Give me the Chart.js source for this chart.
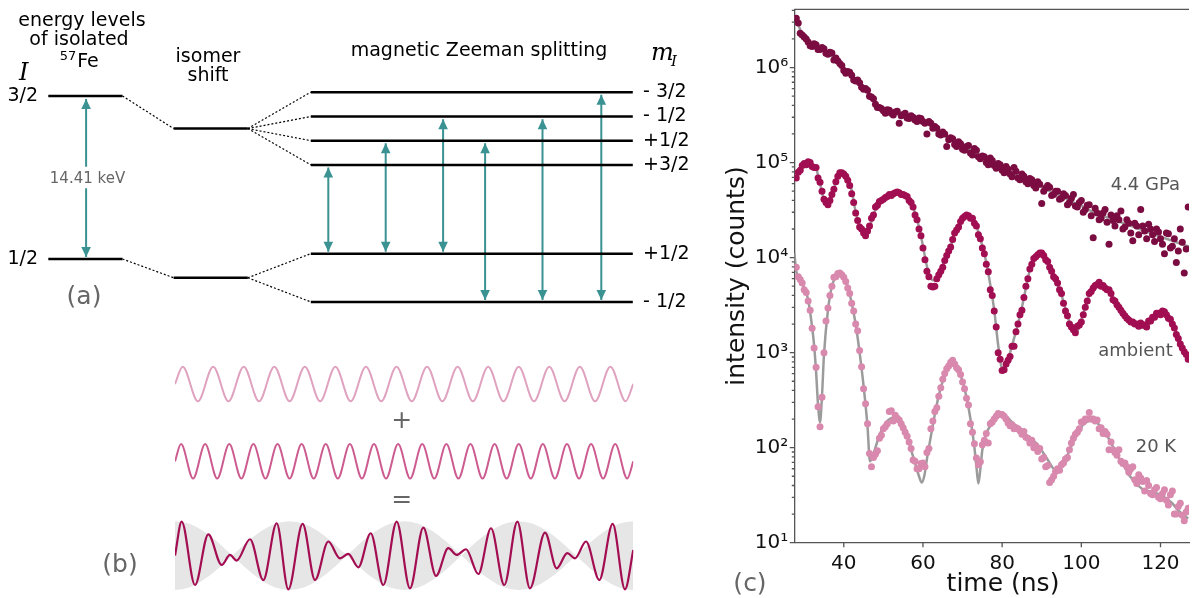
<!DOCTYPE html>
<html>
<head>
<meta charset="utf-8">
<script src="https://cdn.jsdelivr.net/npm/chart.js@4.4.1/dist/chart.umd.min.js"></script>
<style>
  html, body { margin: 0; padding: 0; background: #fff; }
  body { width: 1193px; height: 598px; position: relative; overflow: hidden; }
  canvas { position: absolute; }
  #levels { left: 0; top: 0; }
  #beats { left: 100px; top: 345px; }
  #decay { left: 700px; top: 0; }
</style>
</head>
<body>
<canvas id="levels" width="700" height="345"></canvas>
<canvas id="beats" width="560" height="253"></canvas>
<canvas id="decay" width="493" height="598"></canvas>
<script>
// ---------- (a) level scheme, energies in arbitrary units (ground 1/2 = 0, excited 3/2 = 10)
const isolatedLevels = [10, 0];
const isolatedLabels = ['3/2', '1/2'];
const isomerLevels = [8.0, -1.15];
const zeemanUpper = [10.23, 8.74, 7.26, 5.77];
const zeemanUpperLabels = ['- 3/2', '- 1/2', '+1/2', '+3/2'];
const zeemanLower = [0.33, -2.63];
const zeemanLowerLabels = ['+1/2', '- 1/2'];
// allowed transitions (index into zeemanUpper / zeemanLower)
const transitionUpper = [3, 2, 1, 2, 1, 0];
const transitionLower = [0, 0, 0, 1, 1, 1];

// ---------- (b) two waves (extrema, one value per half period) and their sum
const wave1 = [0, 1,-1, 1,-1, 1,-1, 1,-1, 1,-1, 1,-1, 1,-1, 1,-1, 1,-1, 1,-1, 1,-1, 1,-1, 1,-1, 1,-1, 1,-1, 0];
const wave2 = [0, 1,-1, 1,-1, 1,-1, 1,-1, 1,-1, 1,-1, 1,-1, 1,-1, 1,-1, 1,-1, 1,-1, 1,-1, 1,-1, 1,-1, 1,-1, 1,-1, 1,-1, 1,-1, 1,-1, 0];
const sumX = [0, 0.87, 2.62, 4.36, 6.11, 7.20, 8.07, 9.82, 11.56, 13.31, 14.84, 16.71, 18.33, 20.07, 21.60, 22.69, 24.00, 25.62, 27.27, 29.02,
  30.76, 32.51, 34.17, 35.78, 36.87, 38.10, 39.71, 41.37, 43.11, 44.82, 46.47, 48.44, 49.97, 51.36, 52.37, 53.81, 55.55, 57.30, 58.91, 60];
const sumY = [0, 1.98, -1.71, 1.24, -0.54, 0.04, -0.29, 0.95, -1.42, 1.88, -1.96, 1.84, -1.42, 0.82, -0.16, 0.10, -0.68, 1.30, -1.71, 1.98,
  -1.90, 1.63, -1.18, 0.43, 0.04, 0.37, -1.07, 1.59, -1.71, 1.98, -1.90, 1.34, -0.74, 0.14, -0.16, 0.82, -1.42, 1.84, -1.96, 0.33];
const envelope = [2, 1.96, 1.85, 1.66, 1.41, 1.11, 0.77, 0.39, 0, 0.39, 0.77, 1.11, 1.41, 1.66, 1.85, 1.96,
  2, 1.96, 1.85, 1.66, 1.41, 1.11, 0.77, 0.39, 0, 0.39, 0.77, 1.11, 1.41, 1.66, 1.85, 1.96,
  2, 1.96, 1.85, 1.66, 1.41, 1.11, 0.77, 0.39, 0, 0.39, 0.77, 1.11, 1.41, 1.66, 1.85, 1.96,
  2, 1.96, 1.85, 1.66, 1.41, 1.11, 0.77, 0.39, 0, 0.39, 0.77, 1.11, 1.41, 1.66, 1.85, 1.96, 2];

// ---------- (c) time spectra, read at whole and half nanoseconds
const timeNs = [28, 29, 30, 31, 32, 33, 34, 35, 36, 37, 38, 39, 40, 41, 42, 43, 44, 45, 46, 47, 48, 49, 50, 51, 52, 53, 54, 55, 56, 57,
  58, 59, 60, 61, 62, 63, 64, 65, 66, 67, 68, 69, 70, 71, 72, 73, 74, 75, 76, 77, 78, 79, 80, 81, 82, 83, 84, 85, 86, 87,
  88, 89, 90, 91, 92, 93, 94, 95, 96, 97, 98, 99, 100, 101, 102, 103, 104, 105, 106, 107, 108, 109, 110, 111, 112, 113, 114, 115, 116, 117,
  118, 119, 120, 121, 122, 123, 124, 125, 126, 127];
const timeHalfNs = [28.5, 29.5, 30.5, 31.5, 32.5, 33.5, 34.5, 35.5, 36.5, 37.5, 38.5, 39.5, 40.5, 41.5, 42.5, 43.5, 44.5, 45.5, 46.5, 47.5,
  48.5, 49.5, 50.5, 51.5, 52.5, 53.5, 54.5, 55.5, 56.5, 57.5, 58.5, 59.5, 60.5, 61.5, 62.5, 63.5, 64.5, 65.5, 66.5, 67.5,
  68.5, 69.5, 70.5, 71.5, 72.5, 73.5, 74.5, 75.5, 76.5, 77.5, 78.5, 79.5, 80.5, 81.5, 82.5, 83.5, 84.5, 85.5, 86.5, 87.5,
  88.5, 89.5, 90.5, 91.5, 92.5, 93.5, 94.5, 95.5, 96.5, 97.5, 98.5, 99.5, 100.5, 101.5, 102.5, 103.5, 104.5, 105.5, 106.5, 107.5,
  108.5, 109.5, 110.5, 111.5, 112.5, 113.5, 114.5, 115.5, 116.5, 117.5, 118.5, 119.5, 120.5, 121.5, 122.5, 123.5, 124.5, 125.5, 126.5];

const gpaCounts = [3.3e6, 2.3e6, 2.1e6, 1.86e6, 1.66e6, 1.74e6, 1.55e6, 1.58e6, 1.38e6, 1.42e6,
  1.26e6, 1.10e6, 9.3e5, 9.1e5, 8.3e5, 7.2e5, 6.9e5, 5.9e5, 5.75e5, 4.9e5,
  4.1e5, 3.8e5, 3.5e5, 3.6e5, 3.3e5, 3.4e5, 2.6e5, 3.2e5, 2.95e5, 3.1e5,
  2.8e5, 2.95e5, 2.7e5, 2.0e5, 2.6e5, 2.4e5, 2.0e5, 2.1e5, 1.48e5, 1.82e5,
  1.55e5, 1.66e5, 1.38e5, 1.48e5, 1.26e5, 1.41e5, 1.15e5, 1.17e5, 1.0e5, 1.12e5,
  9.3e4, 9.8e4, 8.3e4, 9.1e4, 7.6e4, 8.9e4, 6.9e4, 7.6e4, 6.3e4, 6.8e4,
  5.75e4, 6.3e4, 3.7e4, 5.4e4, 5.5e4, 4.6e4, 5.0e4, 4.2e4, 4.5e4, 3.8e4,
  4.6e4, 3.4e4, 4.0e4, 3.2e4, 3.6e4, 1.62e4, 2.95e4, 2.6e4, 3.2e4, 1.38e4,
  2.45e4, 2.75e4, 3.1e4, 2.1e4, 2.3e4, 1.5e4, 2.15e4, 3.2e4, 1.9e4, 2.25e4,
  1.74e4, 2.0e4, 1.58e4, 1.1e4, 1.78e4, 1.32e4, 8.9e3, 2.0e4, 6.9e3, 3.4e4];
const gpaCountsHalf = [2.95e6, 2.2e6, 2.0e6, 1.7e6, 1.78e6, 1.55e6, 1.62e6, 1.41e6, 1.45e6, 1.2e6,
  1.17e6, 1.05e6, 8.7e5, 8.9e5, 7.4e5, 7.4e5, 6.2e5, 6.0e5, 5.0e5, 4.7e5,
  3.8e5, 3.7e5, 3.3e5, 3.55e5, 3.16e5, 3.47e5, 3.1e5, 3.3e5, 2.9e5, 3.0e5,
  2.7e5, 2.9e5, 2.6e5, 2.7e5, 2.3e5, 2.3e5, 1.95e5, 2.0e5, 1.74e5, 1.78e5,
  1.48e5, 1.58e5, 1.35e5, 1.51e5, 1.2e5, 1.35e5, 1.1e5, 1.15e5, 9.5e4, 1.05e5,
  8.7e4, 9.5e4, 7.8e4, 8.5e4, 7.1e4, 8.1e4, 6.6e4, 7.2e4, 6.0e4, 6.6e4,
  5.4e4, 5.9e4, 5.0e4, 5.75e4, 4.5e4, 5.0e4, 4.1e4, 4.7e4, 3.6e4, 4.2e4,
  3.5e4, 3.8e4, 3.0e4, 3.55e4, 2.75e4, 3.3e4, 2.5e4, 2.95e4, 2.35e4, 2.8e4,
  2.15e4, 2.5e4, 2.0e4, 2.5e4, 1.82e4, 2.3e4, 1.74e4, 2.15e4, 1.58e4, 2.0e4,
  1.48e4, 1.86e4, 1.38e4, 1.82e4, 1.26e4, 1.58e4, 1.17e4, 1.45e4, 1.23e4];
const ambientCounts = [6.9e4, 8.3e4, 9.8e4, 1.02e5, 9.1e4, 8.9e4, 6.2e4, 4.1e4, 3.6e4, 4.6e4,
  6.3e4, 7.8e4, 7.6e4, 6.5e4, 4.7e4, 2.95e4, 2.1e4, 1.82e4, 1.9e4, 2.6e4,
  3.4e4, 3.9e4, 4.1e4, 4.4e4, 4.5e4, 4.8e4, 4.8e4, 4.6e4, 4.4e4, 3.8e4,
  2.8e4, 2.0e4, 1.26e4, 7.2e3, 5.0e3, 5.0e3, 6.6e3, 7.9e3, 1.05e4, 1.29e4,
  1.82e4, 2.1e4, 2.6e4, 2.8e4, 2.6e4, 2.3e4, 1.74e4, 1.26e4, 8.5e3, 4.6e3,
  2.75e3, 1.0e3, 650, 760, 910, 1.17e3, 2.0e3, 2.8e3, 5.0e3, 7.6e3,
  9.8e3, 1.07e4, 1.12e4, 9.5e3, 7.9e3, 6.3e3, 5.4e3, 4.2e3, 2.75e3, 2.0e3,
  1.74e3, 1.9e3, 2.1e3, 3.0e3, 4.2e3, 4.8e3, 5.2e3, 5.0e3, 4.8e3, 4.6e3,
  3.6e3, 3.2e3, 2.8e3, 2.45e3, 2.2e3, 2.1e3, 2.0e3, 2.05e3, 1.95e3, 2.15e3,
  2.35e3, 2.6e3, 2.5e3, 2.7e3, 2.3e3, 2.0e3, 1.55e3, 1.23e3, 1.02e3, 850];
const ambientCountsHalf = [7.9e4, 9.3e4, 9.5e4, 1.0e5, 8.9e4, 6.9e4, 5.0e4, 3.8e4, 4.0e4, 5.25e4,
  7.2e4, 7.8e4, 7.2e4, 5.75e4, 3.8e4, 2.45e4, 2.0e4, 1.7e4, 2.15e4, 2.8e4,
  3.55e4, 4.0e4, 4.3e4, 4.6e4, 4.7e4, 4.9e4, 4.6e4, 4.5e4, 4.0e4, 3.4e4,
  2.5e4, 1.7e4, 9.5e3, 6.3e3, 4.9e3, 6.0e3, 7.2e3, 9.3e3, 1.17e4, 1.55e4,
  1.95e4, 2.4e4, 2.7e4, 2.75e4, 2.6e4, 2.15e4, 1.58e4, 1.1e4, 7.1e3, 4.0e3,
  1.86e3, 850, 660, 830, 1.17e3, 1.66e3, 2.5e3, 3.8e3, 6.0e3, 8.5e3,
  1.02e4, 1.12e4, 1.05e4, 9.1e3, 7.2e3, 6.0e3, 4.6e3, 3.3e3, 2.45e3, 1.86e3,
  1.62e3, 1.95e3, 2.5e3, 3.5e3, 4.4e3, 5.1e3, 5.5e3, 5.1e3, 4.6e3, 4.2e3,
  3.5e3, 3.0e3, 2.6e3, 2.3e3, 2.1e3, 2.0e3, 1.9e3, 1.95e3, 1.86e3, 2.15e3,
  2.35e3, 2.6e3, 2.75e3, 2.5e3, 2.24e3, 1.82e3, 1.41e3, 1.12e3, 955];
const k20Counts = [7.9e3, 5.9e3, 4.6e3, 3.5e3, 1.8e3, 700, 166, 1.0e3, 2.95e3, 5.0e3,
  6.3e3, 6.9e3, 6.2e3, 4.8e3, 3.3e3, 2.0e3, 1.05e3, 417, 178, 63,
  85, 126, 158, 178, 245, 219, 195, 162, 132, 98,
  72, 60, 69, 89, 158, 240, 347, 525, 676, 794,
  759, 661, 490, 331, 178, 110, 66, 107, 141, 178,
  200, 229, 224, 200, 170, 158, 158, 138, 129, 112,
  100, 91, 76, 63, 43, 50, 60, 66, 76, 95,
  126, 145, 186, 200, 234, 200, 195, 162, 148, 95,
  95, 83, 72, 69, 55, 63, 42, 48, 35, 40,
  32, 38, 29, 36, 25, 35, 20, 26, 17, 23];
const k20CountsHalf = [6.3e3, 5.4e3, 4.3e3, 2.8e3, 1.12e3, 270, 340, 2.15e3, 4.0e3, 6.2e3,
  6.8e3, 6.6e3, 5.6e3, 4.2e3, 2.75e3, 1.7e3, 710, 290, 87, 79,
  93, 135, 166, 240, 191, 204, 178, 145, 115, 74,
  60, 68, 63, 98, 191, 263, 427, 603, 724, 832,
  692, 589, 417, 282, 145, 78, 71, 120, 112, 186,
  214, 224, 214, 182, 174, 162, 151, 148, 126, 120,
  105, 98, 79, 65, 46, 56, 58, 69, 79, 112,
  138, 158, 186, 200, 200, 191, 158, 141, 138, 115,
  89, 95, 68, 63, 60, 46, 52, 44, 45, 33,
  36, 30, 33, 28, 32, 20, 24, 19.5, 21];

// fitted curves
const gpaFitTime = [27.5, 28, 29, 30, 32, 34, 36, 38, 40, 42, 44, 46, 48, 50, 52, 54, 56, 58, 60, 62, 64, 66, 68, 70, 72, 74, 76, 78,
  80, 82, 84, 86, 88, 90, 92, 94, 96, 98, 100, 102, 104, 106, 108, 110, 112, 114, 116, 118, 120, 122, 124, 126, 128];
const gpaFit = [3.5e6, 3.16e6, 2.5e6, 2.0e6, 1.74e6, 1.58e6, 1.45e6, 1.2e6, 1.0e6, 8.1e5, 6.8e5, 5.5e5, 4.2e5, 3.55e5, 3.4e5, 3.2e5,
  3.1e5, 2.9e5, 2.75e5, 2.5e5, 2.15e5, 1.86e5, 1.66e5, 1.48e5, 1.35e5, 1.2e5, 1.05e5, 9.5e4, 8.7e4, 7.9e4, 7.2e4, 6.6e4, 6.0e4,
  5.5e4, 5.0e4, 4.6e4, 4.2e4, 3.8e4, 3.5e4, 3.16e4, 2.9e4, 2.7e4, 2.5e4, 2.35e4, 2.2e4, 2.05e4, 1.9e4, 1.78e4, 1.66e4, 1.55e4,
  1.45e4, 1.35e4, 1.29e4];
const ambientFit = [7.1e4, 8.5e4, 9.5e4, 1.0e5, 9.5e4, 8.7e4, 6.0e4, 4.1e4, 3.7e4, 4.5e4,
  6.2e4, 7.6e4, 7.6e4, 6.6e4, 5.1e4, 3.0e4, 2.2e4, 1.82e4, 1.78e4, 2.4e4,
  3.16e4, 3.7e4, 4.1e4, 4.4e4, 4.6e4, 4.7e4, 4.7e4, 4.6e4, 4.3e4, 3.7e4,
  2.95e4, 2.1e4, 1.32e4, 8.1e3, 6.0e3, 5.75e3, 6.6e3, 8.3e3, 1.05e4, 1.32e4,
  1.74e4, 2.2e4, 2.6e4, 2.75e4, 2.7e4, 2.4e4, 1.86e4, 1.32e4, 8.9e3, 5.2e3,
  2.8e3, 1.2e3, 690, 720, 1.0e3, 1.41e3, 2.0e3, 3.0e3, 4.8e3, 7.4e3,
  9.5e3, 1.07e4, 1.1e4, 1.0e4, 8.3e3, 6.6e3, 5.2e3, 4.0e3, 2.9e3, 2.1e3,
  1.66e3, 1.7e3, 2.2e3, 3.0e3, 4.0e3, 4.7e3, 5.1e3, 5.2e3, 5.0e3, 4.5e3,
  3.8e3, 3.2e3, 2.75e3, 2.4e3, 2.2e3, 2.05e3, 1.95e3, 1.86e3, 1.82e3, 1.95e3,
  2.24e3, 2.45e3, 2.6e3, 2.6e3, 2.4e3, 2.05e3, 1.58e3, 1.26e3, 1.05e3, 890];
const k20FitTime = [27.5, 28, 29, 30, 31, 32, 32.5, 33, 33.5, 34, 34.5, 35,
  36, 37, 38, 39, 40, 41, 42, 43, 44, 45, 46, 46.6, 47.2,
  48, 49, 50, 51, 52, 53, 54, 55, 56, 57, 58, 59, 59.7, 60.4,
  61, 62, 63, 64, 65, 66, 67, 68, 69, 70, 71, 72, 73, 73.5, 74, 74.5,
  75, 76, 77, 78, 79, 80, 81, 82, 83, 84, 85, 86, 87, 88, 89, 90, 91, 92, 93, 94, 95, 96, 97, 98, 99, 100,
  101, 102, 103, 104, 105, 106, 107, 108, 109, 110, 111, 112, 113, 114, 115, 116, 117, 118, 119, 120,
  121, 122, 123, 124, 125, 126, 127];
const k20Fit = [1.12e4, 7.2e3, 5.75e3, 4.8e3, 3.6e3, 1.86e3, 1.2e3, 630, 282, 186, 355, 955,
  2.8e3, 5.0e3, 6.3e3, 6.8e3, 6.3e3, 5.0e3, 3.3e3, 2.0e3, 1.0e3, 447, 166, 72, 79,
  100, 135, 166, 191, 204, 209, 200, 174, 135, 95, 69, 50, 43, 52,
  76, 132, 224, 355, 501, 646, 741, 741, 646, 501, 339, 200, 100, 63, 42, 60,
  95, 141, 170, 195, 214, 219, 214, 195, 178, 162, 148, 135, 126, 117, 107, 93, 81, 69, 60, 59, 65, 76, 93, 117, 145, 166,
  182, 191, 191, 182, 166, 145, 123, 102, 85, 72, 62, 52, 46, 41, 38, 35, 35, 34, 33, 32,
  30, 28, 26, 23, 21, 19.5, 18];

const xTicks = [40, 60, 80, 100, 120];
const xTickLabels = ['40', '60', '80', '100', '120'];
const yMajorTicks = [1e1, 1e2, 1e3, 1e4, 1e5, 1e6];
const yTickLabels = ['10\u00b9', '10\u00b2', '10\u00b3', '10\u2074', '10\u2075', '10\u2076'];
const seriesLabels = ['4.4 GPa', 'ambient', '20 K'];

// ---------- styles / layout
const FONT = '"DejaVu Sans", sans-serif';
const SERIF = '"DejaVu Serif", serif';
Chart.defaults.font.family = FONT;
const teal = '#3a9292';
const gpaColor = '#7b0c41';
const ambientColor = '#a20e52';
const k20Color = '#d889ad';
const fitColor = '#9b9b9b';

const colIsolated = [6.9, 17.5];
const colIsomer = [24.8, 35.4];
const colZeeman = [44.4, 90.4];
const transitionX = [46.9, 55.1, 63.3, 69.3, 77.5, 85.9];
const keVArrowX = 12.3;
const keVLabelE = 4.9;

const baseOpts = {
  responsive: false, animation: false, events: [],
  plugins: { legend: { display: false }, tooltip: { enabled: false } },
  elements: { point: { radius: 0 } }
};

// draws filled heads at both ends of datasets flagged with arrow: true
const arrowHeads = {
  id: 'arrowHeads',
  afterDatasetsDraw(chart) {
    const ctx = chart.ctx;
    chart.data.datasets.forEach((ds, i) => {
      if (!ds.arrow) return;
      const pts = chart.getDatasetMeta(i).data;
      ctx.save();
      ctx.fillStyle = ds.borderColor;
      [[pts[0], 1], [pts[pts.length - 1], -1]].forEach(([p, dir]) => {
        ctx.beginPath();
        ctx.moveTo(p.x, p.y);
        ctx.lineTo(p.x - 4.8, p.y + dir * 10);
        ctx.lineTo(p.x + 4.8, p.y + dir * 10);
        ctx.closePath();
        ctx.fill();
      });
      ctx.restore();
    });
  }
};

// ---------- panel (a)
const levelSets = [];
function seg(points, style) {
  levelSets.push(Object.assign({ data: points, showLine: true, pointRadius: 0, borderColor: '#000', borderWidth: 2.5 }, style || {}));
}
const dotted = { borderWidth: 1.2, borderDash: [2, 2] };
const arrowStyle = { borderColor: teal, borderWidth: 2, arrow: true };
isolatedLevels.forEach(e => seg([{ x: colIsolated[0], y: e }, { x: colIsolated[1], y: e }]));
isomerLevels.forEach(e => seg([{ x: colIsomer[0], y: e }, { x: colIsomer[1], y: e }]));
zeemanUpper.concat(zeemanLower).forEach(e => seg([{ x: colZeeman[0], y: e }, { x: colZeeman[1], y: e }]));
isolatedLevels.forEach((e, i) => seg([{ x: colIsolated[1], y: e }, { x: colIsomer[0], y: isomerLevels[i] }], dotted));
zeemanUpper.forEach(e => seg([{ x: colIsomer[1], y: isomerLevels[0] }, { x: colZeeman[0], y: e }], dotted));
zeemanLower.forEach(e => seg([{ x: colIsomer[1], y: isomerLevels[1] }, { x: colZeeman[0], y: e }], dotted));
transitionUpper.forEach((u, k) => seg([
  { x: transitionX[k], y: zeemanUpper[u] - 0.16 },
  { x: transitionX[k], y: zeemanLower[transitionLower[k]] + 0.11 }], arrowStyle));
seg([{ x: keVArrowX, y: isolatedLevels[0] - 0.18 }, { x: keVArrowX, y: keVLabelE + 0.76 }, { x: keVArrowX, y: null },
     { x: keVArrowX, y: keVLabelE - 0.56 }, { x: keVArrowX, y: isolatedLevels[1] + 0.12 }], arrowStyle);

const levelText = {
  id: 'levelText',
  afterDraw(chart) {
    const { ctx, scales: { y } } = chart;
    ctx.save();
    ctx.fillStyle = '#000';
    ctx.textBaseline = 'middle';
    ctx.textAlign = 'center';
    ctx.font = '19px ' + FONT;
    ctx.fillText('energy levels', 82, 21);
    ctx.fillText('of isolated', 79, 40);
    ctx.fillText('Fe', 88, 62);
    ctx.fillText('isomer', 208, 57);
    ctx.fillText('shift', 208, 76);
    ctx.fillText('magnetic Zeeman splitting', 479, 51);
    ctx.font = '13px ' + FONT;
    ctx.fillText('57', 68, 57);
    ctx.font = '19px ' + FONT;
    ctx.textAlign = 'right';
    isolatedLevels.forEach((e, i) => ctx.fillText(isolatedLabels[i], 38, y.getPixelForValue(e)));
    ctx.textAlign = 'left';
    zeemanUpper.forEach((e, i) => ctx.fillText(zeemanUpperLabels[i], 643, y.getPixelForValue(e)));
    zeemanLower.forEach((e, i) => ctx.fillText(zeemanLowerLabels[i], 643, y.getPixelForValue(e)));
    ctx.fillStyle = '#666';
    ctx.textAlign = 'center';
    ctx.font = '15px ' + FONT;
    ctx.fillText('14.41 keV', 87.5, y.getPixelForValue(keVLabelE));
    ctx.font = '25px ' + FONT;
    ctx.fillText('(a)', 84, 297);
    ctx.fillStyle = '#000';
    ctx.textBaseline = 'alphabetic';
    ctx.textAlign = 'left';
    ctx.font = 'italic 24px ' + SERIF;
    ctx.fillText('I', 19, 80);
    ctx.fillText('m', 651, 60);
    ctx.font = 'italic 15px ' + SERIF;
    ctx.fillText('I', 671, 66);
    ctx.restore();
  }
};

new Chart(document.getElementById('levels'), {
  type: 'scatter',
  data: { datasets: levelSets },
  options: Object.assign({}, baseOpts, {
    layout: { padding: { left: 0, right: 0, top: 20, bottom: 25 } },
    scales: {
      x: { type: 'linear', display: false, min: 0, max: 100 },
      y: { type: 'linear', display: false, min: -3.74, max: 14.66 }
    }
  }),
  plugins: [arrowHeads, levelText]
});

// ---------- panel (b)
function extremaPoints(values) {
  const q = 60 / (2 * (values.length - 2));
  return values.map((v, i) => ({ x: i === 0 ? 0 : (i === values.length - 1 ? 60 : (2 * i - 1) * q), y: v }));
}
const envStep = 60 / (envelope.length - 1);
const envUpper = envelope.map((v, i) => ({ x: i * envStep, y: v }));
const envLower = envelope.map((v, i) => ({ x: i * envStep, y: -v }));
const sumPts = sumY.map((v, i) => ({ x: sumX[i], y: v }));

const beatText = {
  id: 'beatText',
  afterDraw(chart) {
    const ctx = chart.ctx;
    ctx.save();
    ctx.fillStyle = '#666';
    ctx.textAlign = 'center';
    ctx.textBaseline = 'middle';
    ctx.font = '25px ' + FONT;
    ctx.fillText('+', 301.7, 76.7);
    ctx.fillText('=', 301.7, 155);
    ctx.fillText('(b)', 20, 220);
    ctx.restore();
  }
};

const waveLine = { showLine: true, pointRadius: 0, cubicInterpolationMode: 'monotone', order: 0 };
new Chart(document.getElementById('beats'), {
  type: 'scatter',
  data: {
    datasets: [
      { data: envUpper, yAxisID: 'ySum', showLine: true, pointRadius: 0, borderWidth: 0, borderColor: 'transparent',
        fill: '+1', backgroundColor: '#e6e6e6', order: 5 },
      { data: envLower, yAxisID: 'ySum', showLine: true, pointRadius: 0, borderWidth: 0, borderColor: 'transparent', order: 4 },
      Object.assign({ data: sumPts, yAxisID: 'ySum', borderColor: '#a30d52', borderWidth: 2.2 }, waveLine),
      Object.assign({ data: extremaPoints(wave1), yAxisID: 'y1', borderColor: '#dfa2bf', borderWidth: 2 }, waveLine),
      Object.assign({ data: extremaPoints(wave2), yAxisID: 'y2', borderColor: '#cc5c90', borderWidth: 2 }, waveLine)
    ]
  },
  options: Object.assign({}, baseOpts, {
    layout: { padding: { left: 75, right: 26.7, top: 10, bottom: 3 } },
    scales: {
      x: { type: 'linear', display: false, min: 0, max: 60 },
      y: { type: 'linear', display: false },
      y1: { type: 'linear', display: false, min: -12.267, max: 1.686 },
      y2: { type: 'linear', display: false, min: -7.773, max: 6.180 },
      ySum: { type: 'linear', display: false, min: -2.290, max: 11.663 }
    }
  }),
  plugins: [beatText]
});

// ---------- panel (c)
const pts = (xs, ys) => ys.map((v, i) => ({ x: xs[i], y: v }));
const series = (counts, half) => pts(timeNs, counts).concat(pts(timeHalfNs, half)).sort((a, b) => a.x - b.x);
const dots = color => ({ pointRadius: 3.5, pointBorderWidth: 0, pointBackgroundColor: color, backgroundColor: color, order: 1 });
const fitLine = { showLine: true, pointRadius: 0, borderColor: fitColor, borderWidth: 2.5, cubicInterpolationMode: 'monotone', order: 2 };

const decayDecor = {
  id: 'decayDecor',
  afterDraw(chart) {
    const { ctx, chartArea: a, scales: { x, y } } = chart;
    ctx.save();
    ctx.strokeStyle = '#555';
    ctx.lineWidth = 1.3;
    ctx.beginPath();
    ctx.moveTo(a.left, a.top);
    ctx.lineTo(a.right, a.top);
    yMajorTicks.forEach(v => {
      const py = y.getPixelForValue(v);
      ctx.moveTo(a.left - 4.5, py);
      ctx.lineTo(a.left, py);
      [2, 3, 4, 5, 6, 7, 8, 9].forEach(m => {
        if (v * m > y.max) return;
        const my = y.getPixelForValue(v * m);
        ctx.moveTo(a.left - 2.5, my);
        ctx.lineTo(a.left, my);
      });
    });
    xTicks.forEach(v => {
      const px = x.getPixelForValue(v);
      ctx.moveTo(px, a.bottom);
      ctx.lineTo(px, a.bottom + 4.5);
    });
    ctx.stroke();

    ctx.fillStyle = '#111';
    ctx.textAlign = 'center';
    ctx.textBaseline = 'middle';
    ctx.font = '25px ' + FONT;
    ctx.fillText('time (ns)', 303, 584);
    ctx.save();
    ctx.translate(37, (a.top + a.bottom) / 2);
    ctx.rotate(-Math.PI / 2);
    ctx.fillText('intensity (counts)', 0, 0);
    ctx.restore();
    ctx.fillStyle = '#666';
    ctx.fillText('(c)', 50, 584);
    ctx.fillStyle = '#555';
    ctx.textAlign = 'left';
    ctx.font = '18px ' + FONT;
    ctx.fillText(seriesLabels[0], 410.7, 185);
    ctx.fillText(seriesLabels[1], 398.3, 351);
    ctx.fillText(seriesLabels[2], 435.7, 447);
    ctx.restore();
  }
};

new Chart(document.getElementById('decay'), {
  type: 'scatter',
  data: {
    datasets: [
      Object.assign({ label: seriesLabels[0], data: series(gpaCounts, gpaCountsHalf) }, dots(gpaColor)),
      Object.assign({ label: seriesLabels[1], data: series(ambientCounts, ambientCountsHalf) }, dots(ambientColor)),
      Object.assign({ label: seriesLabels[2], data: series(k20Counts, k20CountsHalf) }, dots(k20Color)),
      Object.assign({ data: pts(gpaFitTime, gpaFit) }, fitLine),
      Object.assign({ data: pts(timeNs, ambientFit) }, fitLine),
      Object.assign({ data: pts(k20FitTime, k20Fit) }, fitLine)
    ]
  },
  options: Object.assign({}, baseOpts, {
    layout: { padding: { left: 0, right: 0, top: 9.3, bottom: 0 } },
    scales: {
      x: {
        type: 'linear', min: 27.5, max: 127.2,
        afterBuildTicks: s => { s.ticks = xTicks.map(v => ({ value: v })); },
        afterFit: s => { s.height = 55.3; s.paddingLeft = 0; s.paddingRight = 0; },
        grid: { display: false, drawTicks: false },
        border: { display: true, color: '#555', width: 1.3 },
        ticks: { color: '#111', font: { size: 20 }, padding: 9, maxRotation: 0, autoSkip: false,
                 callback: (v, i) => xTickLabels[i] }
      },
      y: {
        type: 'logarithmic', min: 10, max: 4.1e6,
        afterBuildTicks: s => { s.ticks = yMajorTicks.map(v => ({ value: v, major: true })); },
        afterFit: s => { s.width = 94.3; s.paddingTop = 0; s.paddingBottom = 0; },
        grid: { display: false, drawTicks: false },
        border: { display: true, color: '#555', width: 1.3 },
        ticks: { color: '#111', font: { size: 20 }, padding: 6, autoSkip: false,
                 callback: (v, i) => yTickLabels[i] }
      }
    }
  }),
  plugins: [decayDecor]
});
</script>
</body>
</html>
